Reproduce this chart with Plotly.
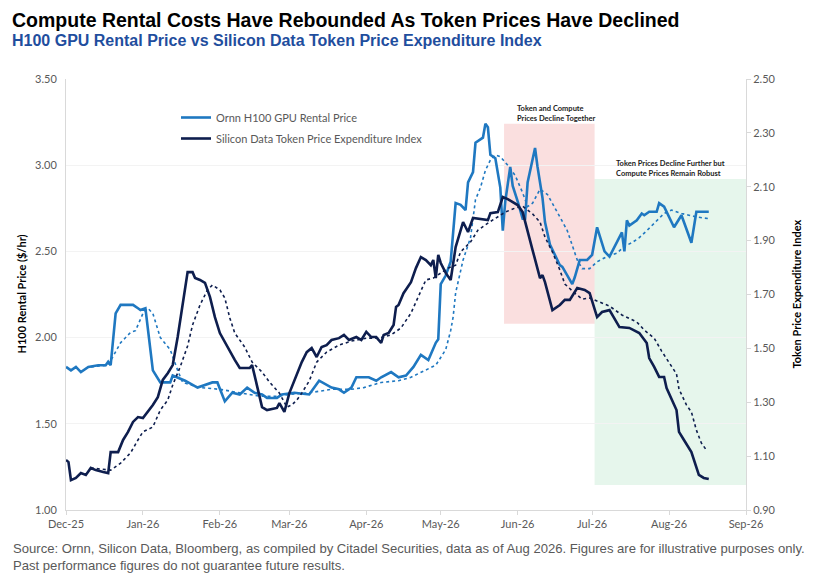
import plotly.graph_objects as go

# ---------------- data ----------------
ornn_dates = ["2025-12-01","2025-12-03","2025-12-05","2025-12-07","2025-12-10","2025-12-14","2025-12-17","2025-12-18","2025-12-19","2025-12-21","2025-12-23","2025-12-28","2025-12-30","2025-12-31","2026-01-02","2026-01-05","2026-01-08","2026-01-12","2026-01-13","2026-01-18","2026-01-23","2026-01-29","2026-01-31","2026-02-03","2026-02-06","2026-02-09","2026-02-12","2026-02-15","2026-02-18","2026-02-20","2026-02-24","2026-02-26","2026-03-03","2026-03-09","2026-03-13","2026-03-18","2026-03-21","2026-03-23","2026-03-26","2026-03-28","2026-04-02","2026-04-05","2026-04-07","2026-04-11","2026-04-14","2026-04-17","2026-04-20","2026-04-23","2026-04-26","2026-04-29","2026-04-30","2026-05-01","2026-05-03","2026-05-05","2026-05-07","2026-05-09","2026-05-11","2026-05-12","2026-05-14","2026-05-15","2026-05-18","2026-05-19","2026-05-20","2026-05-21","2026-05-23","2026-05-25","2026-05-26","2026-05-27","2026-05-29","2026-05-30","2026-06-01","2026-06-03","2026-06-04","2026-06-05","2026-06-08","2026-06-09","2026-06-11","2026-06-12","2026-06-14","2026-06-16","2026-06-18","2026-06-19","2026-06-23","2026-06-24","2026-06-26","2026-06-29","2026-07-01","2026-07-03","2026-07-05","2026-07-06","2026-07-08","2026-07-13","2026-07-14","2026-07-15","2026-07-16","2026-07-19","2026-07-21","2026-07-22","2026-07-24","2026-07-27","2026-07-28","2026-07-30","2026-08-03","2026-08-06","2026-08-10","2026-08-12","2026-08-17"]
ornn_values = [1.83,1.81,1.83,1.80,1.83,1.84,1.84,1.86,1.84,2.14,2.19,2.19,2.17,2.16,2.17,1.81,1.74,1.74,1.78,1.75,1.71,1.74,1.74,1.63,1.68,1.67,1.71,1.68,1.67,1.65,1.65,1.67,1.68,1.67,1.75,1.71,1.70,1.68,1.71,1.77,1.77,1.75,1.77,1.80,1.77,1.78,1.83,1.90,1.87,1.97,1.99,2.31,2.36,2.44,2.78,2.77,2.74,2.90,2.96,3.13,3.16,3.24,3.22,3.06,3.04,2.87,2.62,2.79,2.99,2.88,2.79,2.69,2.69,2.90,3.10,2.99,2.81,2.67,2.54,2.48,2.42,2.41,2.31,2.35,2.45,2.45,2.48,2.64,2.55,2.50,2.47,2.61,2.50,2.68,2.65,2.68,2.72,2.71,2.73,2.73,2.78,2.76,2.64,2.71,2.55,2.73,2.73]

ornn_ma_dates = ["2025-12-11","2025-12-18","2025-12-23","2025-12-27","2025-12-29","2026-01-01","2026-01-03","2026-01-05","2026-01-08","2026-01-12","2026-01-15","2026-01-17","2026-01-24","2026-02-01","2026-02-09","2026-02-17","2026-02-24","2026-03-01","2026-03-09","2026-03-18","2026-03-26","2026-03-31","2026-04-07","2026-04-14","2026-04-19","2026-04-25","2026-04-29","2026-05-03","2026-05-05","2026-05-06","2026-05-07","2026-05-10","2026-05-13","2026-05-15","2026-05-17","2026-05-19","2026-05-21","2026-05-23","2026-05-25","2026-05-28","2026-05-31","2026-06-03","2026-06-05","2026-06-07","2026-06-10","2026-06-13","2026-06-15","2026-06-18","2026-06-21","2026-06-23","2026-06-25","2026-06-27","2026-06-30","2026-07-03","2026-07-07","2026-07-11","2026-07-14","2026-07-17","2026-07-20","2026-07-23","2026-07-27","2026-07-30","2026-08-02","2026-08-06","2026-08-09","2026-08-12","2026-08-17"]
ornn_ma_values = [1.83,1.84,1.97,2.03,2.04,2.14,2.17,2.14,2.00,1.93,1.81,1.74,1.71,1.70,1.68,1.66,1.66,1.67,1.68,1.70,1.70,1.71,1.74,1.75,1.77,1.81,1.84,1.93,2.04,2.12,2.26,2.45,2.58,2.80,2.87,2.97,3.03,3.06,3.05,3.00,2.94,2.84,2.76,2.78,2.86,2.83,2.78,2.70,2.62,2.53,2.45,2.40,2.40,2.44,2.47,2.49,2.53,2.55,2.58,2.62,2.68,2.72,2.74,2.72,2.71,2.70,2.69]

token_dates = ["2025-12-01","2025-12-02","2025-12-03","2025-12-05","2025-12-07","2025-12-09","2025-12-11","2025-12-13","2025-12-16","2025-12-18","2025-12-19","2025-12-22","2025-12-24","2025-12-26","2025-12-28","2025-12-30","2026-01-01","2026-01-03","2026-01-05","2026-01-07","2026-01-09","2026-01-11","2026-01-13","2026-01-15","2026-01-17","2026-01-19","2026-01-21","2026-01-22","2026-01-24","2026-01-26","2026-01-28","2026-01-30","2026-02-01","2026-02-04","2026-02-07","2026-02-09","2026-02-13","2026-02-14","2026-02-18","2026-02-20","2026-02-24","2026-02-25","2026-02-27","2026-03-01","2026-03-03","2026-03-04","2026-03-06","2026-03-08","2026-03-10","2026-03-12","2026-03-14","2026-03-16","2026-03-18","2026-03-21","2026-03-23","2026-03-25","2026-03-28","2026-03-30","2026-04-01","2026-04-03","2026-04-05","2026-04-07","2026-04-08","2026-04-10","2026-04-12","2026-04-13","2026-04-14","2026-04-16","2026-04-19","2026-04-21","2026-04-23","2026-04-25","2026-04-27","2026-04-28","2026-04-29","2026-04-30","2026-05-01","2026-05-03","2026-05-05","2026-05-07","2026-05-10","2026-05-12","2026-05-14","2026-05-20","2026-05-21","2026-05-24","2026-05-26","2026-05-28","2026-06-01","2026-06-03","2026-06-05","2026-06-07","2026-06-10","2026-06-11","2026-06-12","2026-06-15","2026-06-18","2026-06-20","2026-06-22","2026-06-25","2026-06-28","2026-06-30","2026-07-03","2026-07-05","2026-07-08","2026-07-10","2026-07-12","2026-07-16","2026-07-20","2026-07-23","2026-07-24","2026-07-26","2026-07-28","2026-07-30","2026-07-31","2026-08-04","2026-08-05","2026-08-07","2026-08-10","2026-08-13","2026-08-15","2026-08-17"]
token_values = [1.086,1.078,1.011,1.019,1.037,1.030,1.056,1.048,1.041,1.037,1.115,1.115,1.160,1.190,1.227,1.245,1.241,1.264,1.290,1.319,1.383,1.408,1.438,1.542,1.654,1.783,1.783,1.761,1.754,1.743,1.691,1.616,1.557,1.505,1.457,1.427,1.427,1.438,1.282,1.271,1.279,1.297,1.264,1.334,1.383,1.401,1.449,1.486,1.501,1.468,1.505,1.512,1.531,1.538,1.550,1.531,1.542,1.531,1.561,1.542,1.542,1.520,1.550,1.557,1.587,1.654,1.661,1.705,1.746,1.798,1.839,1.828,1.809,1.828,1.761,1.847,1.817,1.780,1.754,1.876,1.969,1.932,1.984,1.976,2.002,2.006,2.062,2.054,2.032,2.006,1.939,1.865,1.761,1.772,1.746,1.642,1.661,1.680,1.680,1.724,1.717,1.705,1.616,1.635,1.642,1.613,1.579,1.576,1.557,1.520,1.464,1.431,1.394,1.394,1.353,1.271,1.190,1.160,1.115,1.030,1.019,1.015]

token_ma_dates = ["2025-12-11","2025-12-19","2025-12-23","2025-12-27","2025-12-30","2026-01-01","2026-01-05","2026-01-08","2026-01-11","2026-01-13","2026-01-16","2026-01-19","2026-01-21","2026-01-24","2026-01-27","2026-01-29","2026-02-01","2026-02-03","2026-02-05","2026-02-07","2026-02-11","2026-02-14","2026-02-18","2026-02-21","2026-02-25","2026-02-28","2026-03-02","2026-03-04","2026-03-06","2026-03-09","2026-03-12","2026-03-16","2026-03-21","2026-03-26","2026-04-01","2026-04-06","2026-04-11","2026-04-15","2026-04-19","2026-04-22","2026-04-25","2026-04-28","2026-05-01","2026-05-04","2026-05-07","2026-05-09","2026-05-13","2026-05-16","2026-05-20","2026-05-24","2026-05-27","2026-05-31","2026-06-03","2026-06-07","2026-06-10","2026-06-12","2026-06-15","2026-06-18","2026-06-20","2026-06-24","2026-06-27","2026-06-30","2026-07-04","2026-07-08","2026-07-13","2026-07-19","2026-07-22","2026-07-26","2026-07-29","2026-08-02","2026-08-04","2026-08-05","2026-08-08","2026-08-10","2026-08-12","2026-08-14","2026-08-16"]
token_ma_values = [1.056,1.048,1.074,1.112,1.160,1.190,1.208,1.271,1.308,1.364,1.431,1.509,1.587,1.661,1.717,1.735,1.717,1.687,1.613,1.557,1.505,1.449,1.412,1.375,1.334,1.282,1.290,1.308,1.334,1.379,1.449,1.486,1.512,1.527,1.538,1.538,1.550,1.576,1.631,1.691,1.754,1.761,1.780,1.798,1.809,1.858,1.895,1.939,1.965,1.988,2.006,2.021,2.028,1.999,1.969,1.913,1.858,1.791,1.739,1.705,1.683,1.687,1.672,1.657,1.624,1.598,1.568,1.538,1.490,1.431,1.405,1.349,1.290,1.264,1.197,1.149,1.123]

left_ticks = [1.0, 1.5, 2.0, 2.5, 3.0, 3.5]
right_ticks = [0.9, 1.1, 1.3, 1.5, 1.7, 1.9, 2.1, 2.3, 2.5]

title_text = "Compute Rental Costs Have Rebounded As Token Prices Have Declined"
subtitle_text = "H100 GPU Rental Price vs Silicon Data Token Price Expenditure Index"
source_line1 = "Source: Ornn, Silicon Data, Bloomberg, as compiled by Citadel Securities, data as of Aug 2026. Figures are for illustrative purposes only."
source_line2 = "Past performance figures do not guarantee future results."

# ---------------- style ----------------
LIGHT = "#1F78C1"
NAVY = "#0E1E4E"
TICKFONT = dict(family="Lato, Noto Sans, sans-serif", size=11, color="#595959")

fig = go.Figure()

fig.add_trace(go.Scatter(x=ornn_ma_dates, y=ornn_ma_values, mode="lines", yaxis="y",
                         line=dict(color=LIGHT, width=1.6, dash="dot"), showlegend=False))
fig.add_trace(go.Scatter(x=token_ma_dates, y=token_ma_values, mode="lines", yaxis="y2",
                         line=dict(color=NAVY, width=1.6, dash="dot"), showlegend=False))
fig.add_trace(go.Scatter(x=ornn_dates, y=ornn_values, mode="lines", yaxis="y",
                         name="Ornn H100 GPU Rental Price", legendgroup="a",
                         line=dict(color=LIGHT, width=2.6)))
fig.add_trace(go.Scatter(x=token_dates, y=token_values, mode="lines", yaxis="y2",
                         name="Silicon Data Token Price Expenditure Index", legendgroup="b",
                         line=dict(color=NAVY, width=2.6)))

# shaded regions
fig.add_shape(type="rect", xref="x", yref="y", x0="2026-05-26 12:00", x1="2026-07-02",
              y0=2.08, y1=3.24, fillcolor="rgba(238,150,150,0.30)", line_width=0, layer="below")
fig.add_shape(type="rect", xref="x", yref="y", x0="2026-07-02", x1="2026-09-01",
              y0=1.145, y1=2.92, fillcolor="rgba(140,215,170,0.22)", line_width=0, layer="below")

ann = []
ann.append(dict(text="<b>Token and Compute<br>Prices Decline Together</b>", xref="x", yref="y",
                x="2026-05-31", y=3.30, xanchor="left", yanchor="middle", align="left", showarrow=False,
                font=dict(family="Lato, sans-serif", size=7.5, color="#222222")))
ann.append(dict(text="<b>Token Prices Decline Further but<br>Compute Prices Remain Robust</b>", xref="x", yref="y",
                x="2026-07-10", y=2.98, xanchor="left", yanchor="middle", align="left", showarrow=False,
                font=dict(family="Lato, sans-serif", size=7.5, color="#222222")))

def px_x(px):
    return (px - 66) / 680.0

def px_y(py):
    return (510 - py) / 431.0

ann.append(dict(text="<b>" + title_text + "</b>", xref="paper", yref="paper", x=px_x(10), y=px_y(20),
                xanchor="left", yanchor="middle", showarrow=False,
                font=dict(family="Liberation Sans, Arial, sans-serif", size=19.5, color="#000000")))
ann.append(dict(text="<b>" + subtitle_text + "</b>", xref="paper", yref="paper", x=px_x(10), y=px_y(40),
                xanchor="left", yanchor="middle", showarrow=False,
                font=dict(family="Liberation Sans, Arial, sans-serif", size=16, color="#1F4E9E")))
ann.append(dict(text=source_line1, xref="paper", yref="paper", x=px_x(11), y=px_y(548),
                xanchor="left", yanchor="middle", showarrow=False,
                font=dict(family="Liberation Sans, Arial, sans-serif", size=13.1, color="#595959")))
ann.append(dict(text=source_line2, xref="paper", yref="paper", x=px_x(11), y=px_y(565),
                xanchor="left", yanchor="middle", showarrow=False,
                font=dict(family="Liberation Sans, Arial, sans-serif", size=13.1, color="#595959")))
ann.append(dict(text="<b>H100 Rental Price ($/hr)</b>", xref="paper", yref="paper", x=px_x(21), y=0.5,
                xanchor="center", yanchor="middle", textangle=-90, showarrow=False,
                font=dict(family="Lato, sans-serif", size=11, color="#000000")))
ann.append(dict(text="<b>Token Price Expenditure Index</b>", xref="paper", yref="paper", x=px_x(796), y=0.5,
                xanchor="center", yanchor="middle", textangle=-90, showarrow=False,
                font=dict(family="Lato, sans-serif", size=11, color="#000000")))

fig.update_layout(
    width=818, height=581,
    margin=dict(l=66, r=72, t=79, b=71),
    paper_bgcolor="white", plot_bgcolor="white",
    annotations=ann,
    legend=dict(x=px_x(176), y=px_y(103), xanchor="left", yanchor="top",
                bgcolor="rgba(0,0,0,0)", font=dict(family="Lato, sans-serif", size=11, color="#595959"),
                itemwidth=30, tracegroupgap=2, traceorder="grouped"),
    xaxis=dict(type="date", range=["2025-12-01", "2026-09-01"], tick0="2025-12-01", dtick="M1",
               tickformat="%b-%y", tickfont=TICKFONT, showgrid=False, showline=True,
               linecolor="#D9D9D9", linewidth=1, ticks="outside", ticklen=4, tickcolor="#D9D9D9",
               zeroline=False),
    yaxis=dict(range=[1.0, 3.5], tickvals=left_ticks, tickformat=".2f", tickfont=TICKFONT,
               showgrid=True, gridcolor="#F3F3F3", showline=True, linecolor="#D9D9D9",
               zeroline=False, ticks="", ticklabelstandoff=6),
    yaxis2=dict(range=[0.9, 2.5], tickvals=right_ticks, tickformat=".2f", tickfont=TICKFONT,
                overlaying="y", side="right", showgrid=False, showline=True, linecolor="#D9D9D9",
                zeroline=False, ticks="outside", ticklen=4, tickcolor="#D9D9D9"),
    hovermode=False,
)

fig.write_html("out.html", config={"displayModeBar": False},
               post_script="document.body.style.margin='0px';")
